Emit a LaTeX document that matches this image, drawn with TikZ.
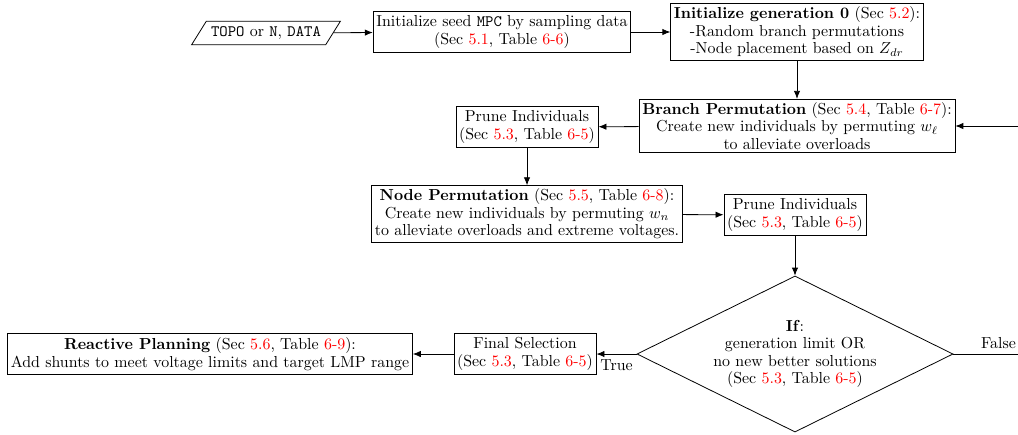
\documentclass[tikz,border=0pt]{standalone}
\usetikzlibrary{shapes.geometric,arrows.meta}
\newcommand{\rf}[1]{\textcolor{red}{#1}}
\begin{document}
\begin{tikzpicture}[x=0.628pt,y=-0.628pt,
				every node/.style={align=center,font=\fontsize{10}{11}\selectfont},
				block/.style={rectangle,draw,inner sep=2pt,minimum height=25.7pt},
				io/.style={trapezium,trapezium left angle=58,trapezium right angle=122,draw,inner xsep=3pt,minimum height=13.8pt},
				cond/.style={diamond,draw,aspect=2,minimum width=198.5pt,minimum height=98pt,inner sep=0pt},
				flow/.style={-{Latex[length=5pt,width=4pt]}},
				every path/.style={line width=0.5pt}]
\useasboundingbox (0,0) rectangle (1018,434);
\node[io] (inp) at (266,33) {\texttt{TOPO} or \texttt{N}, \texttt{DATA}};
\node[block] (seed) at (502,32) {Initialize seed \texttt{MPC} by sampling data\\(Sec \rf{5.1}, Table \rf{6-6})};
\node[block] (gen) at (797,32) {\textbf{Initialize generation 0} (Sec \rf{5.2}):\\-Random branch permutations\\-Node placement based on $Z_{dr}$};
\node[block] (bperm) at (797,126) {\textbf{Branch Permutation} (Sec \rf{5.4}, Table \rf{6-7}):\\Create new individuals by permuting $w_\ell$\\to alleviate overloads};
\node[block] (pruneA) at (527,127) {Prune Individuals\\(Sec \rf{5.3}, Table \rf{6-5})};
\node[block] (nperm) at (527,214) {\textbf{Node Permutation} (Sec \rf{5.5}, Table \rf{6-8}):\\Create new individuals by permuting $w_n$\\to alleviate overloads and extreme voltages.};
\node[block] (pruneB) at (795,215) {Prune Individuals\\(Sec \rf{5.3}, Table \rf{6-5})};
\node[cond] (stop) at (795,354) {\textbf{If}:\\generation limit OR\\no new better solutions\\(Sec \rf{5.3}, Table \rf{6-5})};
\node[block] (final) at (525,354) {Final Selection\\(Sec \rf{5.3}, Table \rf{6-5})};
\node[block] (react) at (210,354) {\textbf{Reactive Planning} (Sec \rf{5.6}, Table \rf{6-9}):\\Add shunts to meet voltage limits and target LMP range};
% flow
\draw[flow] (inp) -- (seed);
\draw[flow] (seed) -- (gen);
\draw[flow] (gen) -- (bperm);
\draw[flow] (bperm) -- (pruneA);
\draw[flow] (pruneA) -- (nperm);
\draw[flow] (nperm) -- (pruneB);
\draw[flow] (pruneB) -- (stop);
\draw[flow] (stop.west) -- node[below] {True} (final);
\draw[flow] (final) -- (react);
\draw[flow] (stop.east) -- node[above] {False} ++(90,0) |- (bperm.east);
\end{tikzpicture}
\end{document}
